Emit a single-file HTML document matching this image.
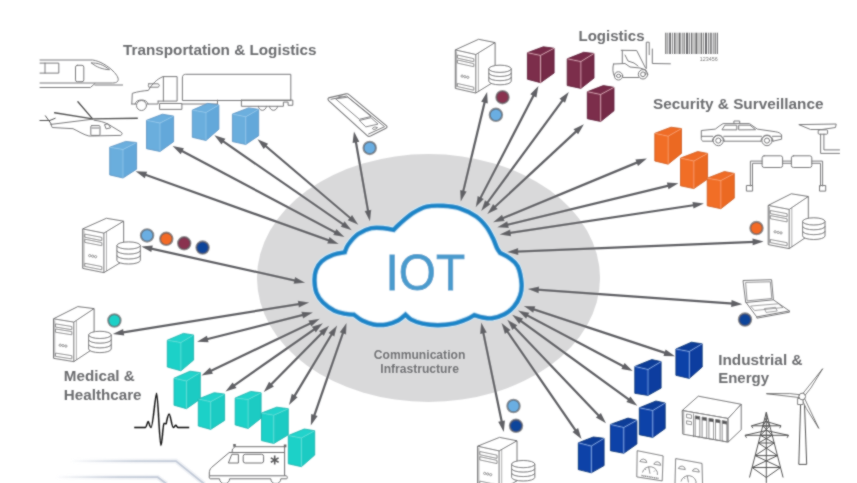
<!DOCTYPE html>
<html><head><meta charset="utf-8"><style>
html,body{margin:0;padding:0;background:#fff;width:857px;height:483px;overflow:hidden}
svg{display:block;will-change:transform}
text{font-family:"Liberation Sans",sans-serif}
</style></head><body>
<svg width="857" height="483" viewBox="0 0 857 483">
<defs><filter id="soft" x="-1%" y="-1%" width="102%" height="102%"><feConvolveMatrix order="3" kernelMatrix="1 2 1 2 12 2 1 2 1" divisor="24" edgeMode="duplicate"/></filter></defs><rect width="857" height="483" fill="#fff"/><g filter="url(#soft)">
<defs><linearGradient id="sw1" gradientUnits="userSpaceOnUse" x1="70" y1="0" x2="180" y2="0"><stop offset="0" stop-color="#c6ceda" stop-opacity="0"/><stop offset="0.6" stop-color="#c6ceda" stop-opacity="0.9"/><stop offset="1" stop-color="#c2cad8"/></linearGradient><linearGradient id="sw2" gradientUnits="userSpaceOnUse" x1="55" y1="0" x2="160" y2="0"><stop offset="0" stop-color="#c6ceda" stop-opacity="0"/><stop offset="0.6" stop-color="#c6ceda" stop-opacity="0.9"/><stop offset="1" stop-color="#c2cad8"/></linearGradient></defs>
<g fill="none" stroke-width="5" stroke-opacity="0.25"><path d="M70,461.1 L176,461.1 L204.3,484" stroke="url(#sw1)"/><path d="M55,477.2 L157.7,477.2 L166.6,484" stroke="url(#sw2)"/></g>
<g fill="none" stroke-width="1.8"><path d="M70,461.1 L176,461.1 L204.3,484" stroke="url(#sw1)"/><path d="M55,477.2 L157.7,477.2 L166.6,484" stroke="url(#sw2)"/></g>
<ellipse cx="428.5" cy="278" rx="171.5" ry="124" fill="#d9d9da"/>
<g fill="none" stroke="#7b7b7d" stroke-width="1" stroke-linejoin="round" stroke-linecap="round">
<!-- train -->
<path d="M40,60 L92.6,60 C100,61 108,66 113,71 C117,75 119.5,79 117.5,81.5 C116.5,82.6 114.5,83 112.6,83 L40,83"/>
<path d="M40,87.5 L90.4,87.5 L94.9,83.6"/>
<path d="M94.9,85 L122.6,85"/>
<path d="M40,63.1 L58.8,63.1 L58.8,73.1 L40,73.1 M45,63.1 L45,73.1"/>
<rect x="75.5" y="65.3" width="8.3" height="16.4" rx="1.8"/>
<path d="M91.5,63 C97,62.5 104,65 109.5,69.7 C103,69.5 96,67 91.5,63 Z"/>
<!-- helicopter -->
<g stroke="#555" stroke-width="1.4">
<path d="M92.6,118.9 L77.9,101.7 M92.6,118.9 L54.6,112.8 M92.6,118.9 L137.3,118.3"/>
</g>
<path d="M39.9,120.5 L49.7,120.5 M45.4,115.8 L51.5,124.4 M49.7,120.5 L55.2,118.3" stroke="#555"/>
<path d="M50.9,124.4 L92.6,119.2 M50.9,124.4 L52.2,127.5 L73,128.7 C78,131 84,135 88.9,136 L120.8,135.4 C122.5,134.5 122.5,133 121,132 L108.5,124.4 C104,122 100,121 94,120.2"/>
<rect x="90.8" y="125.6" width="9.2" height="9.8" rx="1"/>
<path d="M91.8,128 L99,128"/>
<path d="M104.9,124.5 L108,123.8 L110.6,127.8 L106.5,128.8 Z"/>
<!-- truck -->
<path d="M131.8,104 L132.3,93.3 C138,91.5 144,90.8 148.4,90.4 C152,84 157,79 163,76.6 L177.1,76.6 L177.1,101.1 L158.1,101.1"/>
<path d="M163.4,76.6 L163.4,101.1"/>
<path d="M148.8,83.8 L158,83.8 C159.8,84.5 159.8,86.5 158,87.2 L148.8,87.2 C148.2,86 148.2,85 148.8,83.8 Z"/>
<path d="M131.8,104 L135.5,104 M147.5,104 L158.1,104 L158.1,101.1"/>
<rect x="160" y="103.5" width="21.9" height="5.9"/>
<path d="M181.9,104 L217.5,104"/>
<circle cx="141.5" cy="105.5" r="5"/>
<path d="M135,104 C135.5,98.5 147.5,98.5 148,104"/>
<path d="M182.4,100.1 L182.4,78 C182.4,75.5 183.5,74.3 185.5,74.3 L290.8,74.3 L290.8,100.1 Z"/>
<path d="M217.5,100.1 L217.5,104.2"/>
<path d="M241.4,100.1 L241.4,106.3 L283.4,106.3 L283.4,102.1 L288.1,102.1 L288.1,105.3 L292.8,105.3 L292.8,100.1 L241.4,100.1"/>
<path d="M258.4,106.3 A4,4 0 0 0 266.4,106.3 M269.5,106.3 A4,4 0 0 0 277.5,106.3"/>
<!-- phone -->
<path d="M329.5,97.6 L346,93.9 Q347.8,93.5 349,94.6 L386.3,125.6 Q388,127.2 386,128.2 L370.5,136 Q368.6,136.9 367.2,135.6 L328.6,100.6 Q327,98.2 329.5,97.6 Z" stroke-width="1.1"/>
<path d="M331,99.3 L346.6,96 L384.6,126.7 L368.6,134"/>
<path d="M336,98.8 L347.8,97.2 L371,116.5 L359.7,119.2 Z" stroke-width="0.9"/>
<path d="M359.7,120.4 L371,117.7 L378,124.1 L366.2,126.8 Z" stroke-width="0.9"/>
<ellipse cx="374.8" cy="128.2" rx="2.4" ry="1.1" transform="rotate(-15 374.8 128.2)" stroke-width="0.8"/>
<path d="M338.5,96.8 L342,96.1" stroke-width="0.8"/>
<!-- forklift -->
<path d="M646.3,68.5 L646.3,42.2 L649.2,42.2 L649.2,54.7"/>
<path d="M652.3,49 L652.3,63.5 L670.4,63.8"/>
<path d="M621.2,50.3 L636.7,50.5 L645.5,68 M622.3,50.3 L622.3,63.5"/>
<path d="M613.5,64 L625,63.5 L630,67 L640,68 L646,70 L646,74 M613.5,64 C612.5,68 612.5,73 614.5,76.5 M623,77.5 L638.5,77.5"/>
<path d="M625,55 L628,61 L634,63 L638,66"/>
<circle cx="618.6" cy="75.9" r="4.1"/><ellipse cx="618.6" cy="75.9" rx="2.2" ry="1.6"/>
<circle cx="643" cy="74.3" r="4.7"/><circle cx="643" cy="74.3" r="2.4"/>
<!-- police car -->
<path d="M712.4,141.2 L702.7,141.2 C701.5,140.5 701.3,139.5 701.3,138.5 L701.3,130.5 L715.3,129.1 C718,127 720.5,125 723.1,123.6 L749.5,123.6 L757.3,129.1 L775.8,131.8 C778.5,132.3 780.5,133 781.6,135 L781.6,139.2 L773,141.2 M761,141.2 L724.2,141.2"/>
<path d="M712.4,141.2 C712.4,133 724.2,133 724.2,141.2 M761,141.2 C761,133 773,133 773,141.2"/>
<path d="M722.2,129.5 L724.8,125.2 L736.8,125.2 L736.8,129.5 Z M738.7,129.5 L738.7,125.2 L750,125.2 L755.3,129.5 Z"/>
<path d="M733.9,123.6 L733.9,121 L739.7,121 L739.7,123.6"/>
<path d="M701.5,136.3 L712.8,136.3 M723.8,136.3 L761.5,136.3 M772.5,136.3 L781.3,136.3"/>
<circle cx="718.3" cy="140.6" r="5.1"/><circle cx="718.3" cy="140.6" r="2.6"/><circle cx="767" cy="140.6" r="5.1"/><circle cx="767" cy="140.6" r="2.6"/>
<!-- street camera -->
<path d="M799.2,124.6 L836.2,124 L835.5,127.5 L822,129.5 L810.9,129.5 Z"/>
<rect x="818.2" y="129.8" width="9.4" height="4.4" rx="1"/>
<path d="M820.6,134.2 L820.6,153.4 L839.5,153.4 M823.9,134.2 L823.9,149.9 L839.5,149.9"/>
<!-- pipe/sensor -->
<path d="M750.4,186 L750.4,161.1 L762.1,161.1 M782.6,161.1 L791.4,161.1 M811.8,161.1 L822.6,161.1 L822.6,186"/>
<path d="M752.5,186 L752.5,163.3 L762.1,163.3 M782.6,163.3 L791.4,163.3 M811.8,163.3 L820.5,163.3 L820.5,186"/>
<rect x="762.1" y="155.8" width="20.5" height="11.7" rx="2"/>
<rect x="791.4" y="155.8" width="20.4" height="11.7" rx="2"/>
<rect x="746.8" y="185.5" width="5.8" height="5.6"/>
<rect x="819.9" y="185.5" width="5.8" height="5.6"/>
<!-- laptop -->
<path d="M743.4,280.5 L771.6,279.7 L773.4,299.8 L746.1,302.5 Z"/>
<path d="M746,282.4 L770.3,281.8 L771.8,298.5 L747.5,300.8 Z" stroke-width="0.8"/>
<path d="M746.1,302.5 L756.7,316.9 L789.3,310.9 L773.4,299.8 M756.7,316.9 L756.9,318.2 L789.5,312.2 L789.3,310.9"/>
<path d="M751,306 L778.4,303.8 L783,307.5 L755,310.5 Z" stroke-width="0.7"/>
<path d="M764.8,308.5 L775.5,307.3 L777.2,311 L766.5,312.4 Z" stroke-width="0.7"/>
</g>
<!-- ambulance -->
<g fill="none" stroke="#707072" stroke-width="1" stroke-linejoin="round">
<path d="M235,446.7 L284.6,446.7 L284.6,475.8"/>
<path d="M235,446.7 L232.5,449 L232,452.5 M229.2,452.5 L284.6,452.5"/>
<path d="M229.2,452.5 L211.5,467.5 C210,469 209.3,471 209.3,473 L209.3,475.8 L286.5,475.8"/>
<path d="M210.3,478.8 L219.6,478.8 M229.6,478.8 L270.8,478.8 M280.8,478.8 L286.8,478.8 M209.3,475.8 C209,477.5 209.5,478.8 210.3,478.8 M286.5,475.8 C287.5,476.5 287.5,478.5 286.8,478.8"/>
<path d="M231.8,454.3 L238.4,454.3 L238.4,463 L228.4,463 Z"/>
<rect x="243.2" y="454.3" width="20.4" height="8.7" rx="2"/>
<path d="M219.6,478.8 A5,5 0 0 0 229.6,478.8 M270.8,478.8 A5,5 0 0 0 280.8,478.8"/>
<path d="M232,452.5 L229.2,452.5"/>
</g>
<g fill="#6a6a6c"><rect x="233.2" y="444" width="2.6" height="2.8"/><rect x="283.8" y="444.5" width="2.6" height="2.8"/></g>
<path d="M274.7,455.6 L274.7,464.6 M270.8,457.9 L278.6,462.3 M270.8,462.3 L278.6,457.9" stroke="#5a5a5c" stroke-width="1.6"/>
<!-- heartbeat -->
<path d="M134.2,427.5 L145.5,427.5 C146.5,427.5 147.3,421.5 148.2,421.5 C149.1,421.5 149.5,427.5 151,427.5 C153,427.5 155.3,393.2 156.6,393.2 C158,393.2 159.5,445.4 160.9,445.4 C162.2,445.4 162.8,424.5 164,423.5 C165,423 165.5,424.5 166.2,423.5 C167,420 168,414.1 169.1,414.1 C170.5,414.1 171.8,427.5 173.3,427.5 C174.3,427.5 175,425.3 175.8,425.3 C176.6,425.3 177,427.5 178,427.5 L189.2,427.5" fill="none" stroke="#151515" stroke-width="1.5" stroke-linejoin="round"/>
<!-- barcode -->
<g fill="#6b6b6d">
<rect x="665.2" y="32.7" width="1.2" height="21.3"/><rect x="667.4" y="32.7" width="0.8" height="21.3"/><rect x="669.2" y="32.7" width="1.8" height="21.3"/><rect x="672" y="32.7" width="0.8" height="21.3"/><rect x="674" y="32.7" width="1.5" height="21.3"/><rect x="676.6" y="32.7" width="0.8" height="21.3"/><rect x="678.6" y="32.7" width="2" height="21.3"/><rect x="681.8" y="32.7" width="0.8" height="21.3"/><rect x="683.6" y="32.7" width="1.2" height="21.3"/><rect x="686" y="32.7" width="2.2" height="21.3"/><rect x="689.2" y="32.7" width="0.8" height="21.3"/><rect x="691" y="32.7" width="1.4" height="21.3"/><rect x="693.6" y="32.7" width="0.8" height="21.3"/><rect x="695.4" y="32.7" width="2" height="21.3"/><rect x="698.6" y="32.7" width="0.8" height="21.3"/><rect x="700.6" y="32.7" width="1.5" height="21.3"/><rect x="703.2" y="32.7" width="0.8" height="21.3"/><rect x="705" y="32.7" width="2" height="21.3"/><rect x="708.2" y="32.7" width="1" height="21.3"/><rect x="710.2" y="32.7" width="1.5" height="21.3"/><rect x="712.8" y="32.7" width="0.8" height="21.3"/><rect x="714.6" y="32.7" width="1.2" height="21.3"/><rect x="716.8" y="32.7" width="1.1" height="21.3"/>
</g>
<text x="699.8" y="61" font-family="Liberation Sans" font-size="5.4" fill="#777" textLength="18" lengthAdjust="spacingAndGlyphs">123456</text>
<!-- industrial rack -->
<g fill="none" stroke="#6e6e70" stroke-width="1" stroke-linejoin="round">
<polygon points="682.2,410.5 698.3,396.2 741.2,404.3 728.1,418.5" fill="#fff"/>
<polygon points="682.2,410.5 728.1,418.5 728.1,442.1 682.8,434.1" fill="#fff"/>
<polygon points="728.1,418.5 741.2,404.3 741.2,429.7 728.1,442.1" fill="#fff"/>
<polyline points="683.7,411.3 684.0,433.6" stroke-width="0.7"/>
<polygon points="686.5,414.0 691.5,414.9 691.5,418.5 686.5,417.6" stroke-width="0.8"/>
<polygon points="686.5,420.8 691.5,421.7 691.5,424.8 686.5,423.9" stroke-width="0.8"/>
<polyline points="693.5,413.5 693.5,437.0" stroke-width="0.8"/>
<polygon points="695.2,415.8 699.8,416.6 699.8,437.1 695.2,436.3" stroke-width="0.8"/>
<polygon points="702.1,417.0 706.7,417.8 706.7,438.3 702.1,437.5" stroke-width="0.8"/>
<polygon points="708.9,418.2 713.5,419.0 713.5,439.5 708.9,438.7" stroke-width="0.8"/>
<polygon points="715.5,419.3 720.1,420.1 720.1,440.6 715.5,439.8" stroke-width="0.8"/>
<polygon points="722.2,420.5 726.8,421.3 726.8,441.8 722.2,441.0" stroke-width="0.8"/>
</g>
<g fill="#5a5a5c"><polygon points="695.2,415.8 699.8,416.6 699.8,419.8 695.2,419.0"/><polygon points="702.1,417.0 706.7,417.8 706.7,421.0 702.1,420.2"/><polygon points="708.9,418.2 713.5,419.0 713.5,422.2 708.9,421.4"/><polygon points="715.5,419.3 720.1,420.1 720.1,423.3 715.5,422.5"/><polygon points="722.2,420.5 726.8,421.3 726.8,424.5 722.2,423.7"/></g>
<!-- pylon -->
<g fill="none" stroke="#555" stroke-width="1" stroke-linejoin="round">
<path d="M749.5,477.5 L766.3,412.3 L783.1,477.5 M766.3,412.3 L766.3,483 M751.5,425.8 L781,425.8 M751.5,425.8 L766.3,421.5 L781,425.8 M751.5,425.8 L752.8,428.2 M781,425.8 L779.7,428.2 M745.1,435.3 L788.5,435.3 M745.1,435.3 L766.3,430.5 L788.5,435.3 M745.1,435.3 L746.5,437.8 M788.5,435.3 L787.1,437.8 M764.8,418 L769.8,426 M767.8,418 L762.8,426 M762.8,426 L769.8,426 M762.8,426 L772.2,435.3 M769.8,426 L760.4,435.3 M760.4,435.3 L772.2,435.3 M760.4,435.3 L774.2,443 M772.2,435.3 L758.4,443 M758.4,443 L774.2,443 M758.4,443 L777.5,455.6 M774.2,443 L755.1,455.6 M755.1,455.6 L777.5,455.6 M755.1,455.6 L780.5,467.5 M777.5,455.6 L752.1,467.5 M752.1,467.5 L780.5,467.5 M752.1,467.5 L766.3,477.5 L780.5,467.5"/>
<!-- wind turbine -->
<path d="M800.6,404.5 L798.8,464.4 L806.7,464.4 L804.5,404.5"/>
<path d="M805.3,395.0 L810.9,387.9 L822.7,368.7 L803.0,393.4 Z M799.3,394.7 L789.8,393.6 L766.4,393.7 L799.1,397.5 Z M802.2,399.9 L806.3,408.5 L818.8,428.4 L804.6,398.6 Z" fill="#fff" stroke="#666" stroke-width="0.9"/>
<rect x="797.6" y="398.5" width="5.5" height="6" fill="#fff" stroke="#666" stroke-width="0.9"/>
<circle cx="802.2" cy="396.5" r="3.3" fill="#fff" stroke="#666" stroke-width="1"/>
</g>
<!-- gauges -->
<g fill="#fff" stroke="#6a6a6c" stroke-width="0.9">
<path d="M637.2,450.7 L663.1,455.9 L662.2,480.9 L636.8,476.9 Z"/>
<path d="M675,484 L675.7,458.6 L702,463.4 L702.5,484"/>
</g>
<g fill="none" stroke="#6a6a6c" stroke-width="0.8">
<path d="M639.8,461.5 A3.6,3.6 0 0 1 646.8,462.6 Z M653.8,464.2 A3.6,3.6 0 0 1 660.8,465.3 Z"/>
<path d="M642.5,472.5 A7.5,7 0 0 1 657.4,475"/>
<path d="M650,473.7 L648.6,466.8 M645,468.8 L646,470 M655,470.5 L654,471.6"/>
<path d="M641.5,475.5 L658.5,478.4" stroke-width="1.3" stroke-dasharray="1.2,0.6"/>
<path d="M678.3,468.5 A3.6,3.6 0 0 1 685.3,469.6 Z M692.3,471 A3.6,3.6 0 0 1 699.3,472.1 Z"/>
<path d="M681,481.5 A7.5,7 0 0 1 696,484"/>
<path d="M688.5,482.5 L687.2,475.8 M684,477.5 L685,478.8"/>
</g>

<polygon points="455.3,49.9 478.6,39.3 495.1,42.6 495.1,81.1 475.8,93.0 455.3,88.4" fill="#fff" stroke="#6e6e70" stroke-width="1"/><polyline points="455.3,49.9 475.8,54.5 495.1,42.6" fill="none" stroke="#6e6e70" stroke-width="1"/><line x1="475.8" y1="54.5" x2="475.8" y2="93.0" stroke="#6e6e70" stroke-width="1"/><polygon points="457.4,55.0 473.8,58.7 473.8,61.7 457.4,58.1" fill="none" stroke="#6e6e70" stroke-width="0.8"/><polygon points="457.4,60.0 473.8,63.7 473.8,66.7 457.4,63.1" fill="none" stroke="#6e6e70" stroke-width="0.8"/><polygon points="457.4,83.5 473.8,87.2 473.8,90.2 457.4,86.5" fill="none" stroke="#6e6e70" stroke-width="0.8"/><circle cx="462.1" cy="76.1" r="1.15" fill="none" stroke="#6e6e70" stroke-width="0.7"/><circle cx="464.9" cy="76.7" r="1.15" fill="none" stroke="#6e6e70" stroke-width="0.7"/><circle cx="467.8" cy="77.3" r="1.15" fill="none" stroke="#6e6e70" stroke-width="0.7"/><polyline points="478.4,53.1 478.4,91.4" stroke="#6e6e70" stroke-width="0.6" fill="none"/><polyline points="456.6,51.4 456.6,87.4" stroke="#6e6e70" stroke-width="0.6" fill="none"/>
<polygon points="82.7,228.9 106.4,218.3 123.6,221.2 123.6,260.7 103.9,272.6 82.7,268.4" fill="#fff" stroke="#6e6e70" stroke-width="1"/><polyline points="82.7,228.9 103.9,233.1 123.6,221.2" fill="none" stroke="#6e6e70" stroke-width="1"/><line x1="103.9" y1="233.1" x2="103.9" y2="272.6" stroke="#6e6e70" stroke-width="1"/><polygon points="84.8,234.1 101.8,237.4 101.8,240.6 84.8,237.2" fill="none" stroke="#6e6e70" stroke-width="0.8"/><polygon points="84.8,239.2 101.8,242.6 101.8,245.7 84.8,242.4" fill="none" stroke="#6e6e70" stroke-width="0.8"/><polygon points="84.8,263.3 101.8,266.6 101.8,269.8 84.8,266.4" fill="none" stroke="#6e6e70" stroke-width="0.8"/><circle cx="89.7" cy="255.6" r="1.15" fill="none" stroke="#6e6e70" stroke-width="0.7"/><circle cx="92.7" cy="256.2" r="1.15" fill="none" stroke="#6e6e70" stroke-width="0.7"/><circle cx="95.6" cy="256.7" r="1.15" fill="none" stroke="#6e6e70" stroke-width="0.7"/><polyline points="106.5,231.7 106.5,271.0" stroke="#6e6e70" stroke-width="0.6" fill="none"/><polyline points="84.0,230.4 84.0,267.4" stroke="#6e6e70" stroke-width="0.6" fill="none"/>
<polygon points="53.5,318.8 77.8,306.6 94.1,308.6 94.1,348.1 73.8,361.6 53.5,358.3" fill="#fff" stroke="#6e6e70" stroke-width="1"/><polyline points="53.5,318.8 73.8,322.1 94.1,308.6" fill="none" stroke="#6e6e70" stroke-width="1"/><line x1="73.8" y1="322.1" x2="73.8" y2="361.6" stroke="#6e6e70" stroke-width="1"/><polygon points="55.5,323.9 71.8,326.5 71.8,329.7 55.5,327.0" fill="none" stroke="#6e6e70" stroke-width="0.8"/><polygon points="55.5,329.0 71.8,331.6 71.8,334.8 55.5,332.2" fill="none" stroke="#6e6e70" stroke-width="0.8"/><polygon points="55.5,353.1 71.8,355.7 71.8,358.9 55.5,356.3" fill="none" stroke="#6e6e70" stroke-width="0.8"/><circle cx="60.2" cy="345.2" r="1.15" fill="none" stroke="#6e6e70" stroke-width="0.7"/><circle cx="63.0" cy="345.6" r="1.15" fill="none" stroke="#6e6e70" stroke-width="0.7"/><circle cx="65.9" cy="346.1" r="1.15" fill="none" stroke="#6e6e70" stroke-width="0.7"/><polyline points="76.4,320.7 76.4,360.0" stroke="#6e6e70" stroke-width="0.6" fill="none"/><polyline points="54.8,320.3 54.8,357.3" stroke="#6e6e70" stroke-width="0.6" fill="none"/>
<polygon points="768.2,205.4 791.3,193.8 808.3,196.5 808.3,235.7 789.2,248.6 768.2,244.6" fill="#fff" stroke="#6e6e70" stroke-width="1"/><polyline points="768.2,205.4 789.2,209.4 808.3,196.5" fill="none" stroke="#6e6e70" stroke-width="1"/><line x1="789.2" y1="209.4" x2="789.2" y2="248.6" stroke="#6e6e70" stroke-width="1"/><polygon points="770.3,210.5 787.1,213.7 787.1,216.8 770.3,213.6" fill="none" stroke="#6e6e70" stroke-width="0.8"/><polygon points="770.3,215.6 787.1,218.8 787.1,221.9 770.3,218.7" fill="none" stroke="#6e6e70" stroke-width="0.8"/><polygon points="770.3,239.5 787.1,242.7 787.1,245.8 770.3,242.6" fill="none" stroke="#6e6e70" stroke-width="0.8"/><circle cx="775.1" cy="231.8" r="1.15" fill="none" stroke="#6e6e70" stroke-width="0.7"/><circle cx="778.1" cy="232.4" r="1.15" fill="none" stroke="#6e6e70" stroke-width="0.7"/><circle cx="781.0" cy="232.9" r="1.15" fill="none" stroke="#6e6e70" stroke-width="0.7"/><polyline points="791.8,208.0 791.8,247.0" stroke="#6e6e70" stroke-width="0.6" fill="none"/><polyline points="769.5,206.9 769.5,243.6" stroke="#6e6e70" stroke-width="0.6" fill="none"/>
<polygon points="477.6,446.2 499.5,437.4 517.0,440.8 517.0,480.8 499.1,490.9 477.6,486.2" fill="#fff" stroke="#6e6e70" stroke-width="1"/><polyline points="477.6,446.2 499.1,450.9 517.0,440.8" fill="none" stroke="#6e6e70" stroke-width="1"/><line x1="499.1" y1="450.9" x2="499.1" y2="490.9" stroke="#6e6e70" stroke-width="1"/><polygon points="479.8,451.5 497.0,455.2 497.0,458.4 479.8,454.7" fill="none" stroke="#6e6e70" stroke-width="0.8"/><polygon points="479.8,456.7 497.0,460.4 497.0,463.6 479.8,459.9" fill="none" stroke="#6e6e70" stroke-width="0.8"/><polygon points="479.8,481.1 497.0,484.8 497.0,488.0 479.8,484.3" fill="none" stroke="#6e6e70" stroke-width="0.8"/><circle cx="484.7" cy="473.4" r="1.15" fill="none" stroke="#6e6e70" stroke-width="0.7"/><circle cx="487.7" cy="474.0" r="1.15" fill="none" stroke="#6e6e70" stroke-width="0.7"/><circle cx="490.7" cy="474.7" r="1.15" fill="none" stroke="#6e6e70" stroke-width="0.7"/><polyline points="501.7,449.5 501.7,489.3" stroke="#6e6e70" stroke-width="0.6" fill="none"/><polyline points="478.9,447.7 478.9,485.2" stroke="#6e6e70" stroke-width="0.6" fill="none"/>
<path d="M488.8,68.8 L488.8,81.2 A11.2,3.6 0 0 0 511.2,81.2 L511.2,68.8 Z" fill="#fff" stroke="#6e6e70" stroke-width="1"/><ellipse cx="500.0" cy="68.8" rx="11.2" ry="3.6" fill="#fff" stroke="#6e6e70" stroke-width="1"/><path d="M488.8,72.9 A11.2,3.6 0 0 0 511.2,72.9" fill="none" stroke="#6e6e70" stroke-width="1"/><path d="M488.8,77.1 A11.2,3.6 0 0 0 511.2,77.1" fill="none" stroke="#6e6e70" stroke-width="1"/>
<path d="M116.9,245.5 L116.9,260.4 A11.7,3.6 0 0 0 140.3,260.4 L140.3,245.5 Z" fill="#fff" stroke="#6e6e70" stroke-width="1"/><ellipse cx="128.6" cy="245.5" rx="11.7" ry="3.6" fill="#fff" stroke="#6e6e70" stroke-width="1"/><path d="M116.9,250.5 A11.7,3.6 0 0 0 140.3,250.5" fill="none" stroke="#6e6e70" stroke-width="1"/><path d="M116.9,255.4 A11.7,3.6 0 0 0 140.3,255.4" fill="none" stroke="#6e6e70" stroke-width="1"/>
<path d="M88.6,334.9 L88.6,349.0 A11.3,3.6 0 0 0 111.2,349.0 L111.2,334.9 Z" fill="#fff" stroke="#6e6e70" stroke-width="1"/><ellipse cx="99.9" cy="334.9" rx="11.3" ry="3.6" fill="#fff" stroke="#6e6e70" stroke-width="1"/><path d="M88.6,339.6 A11.3,3.6 0 0 0 111.2,339.6" fill="none" stroke="#6e6e70" stroke-width="1"/><path d="M88.6,344.3 A11.3,3.6 0 0 0 111.2,344.3" fill="none" stroke="#6e6e70" stroke-width="1"/>
<path d="M802.6,221.4 L802.6,235.9 A11.2,3.6 0 0 0 825.0,235.9 L825.0,221.4 Z" fill="#fff" stroke="#6e6e70" stroke-width="1"/><ellipse cx="813.8" cy="221.4" rx="11.2" ry="3.6" fill="#fff" stroke="#6e6e70" stroke-width="1"/><path d="M802.6,226.2 A11.2,3.6 0 0 0 825.0,226.2" fill="none" stroke="#6e6e70" stroke-width="1"/><path d="M802.6,231.1 A11.2,3.6 0 0 0 825.0,231.1" fill="none" stroke="#6e6e70" stroke-width="1"/>
<path d="M511.6,464.1 L511.6,477.4 A11.6,3.6 0 0 0 534.8,477.4 L534.8,464.1 Z" fill="#fff" stroke="#6e6e70" stroke-width="1"/><ellipse cx="523.2" cy="464.1" rx="11.6" ry="3.6" fill="#fff" stroke="#6e6e70" stroke-width="1"/><path d="M511.6,468.5 A11.6,3.6 0 0 0 534.8,468.5" fill="none" stroke="#6e6e70" stroke-width="1"/><path d="M511.6,473.0 A11.6,3.6 0 0 0 534.8,473.0" fill="none" stroke="#6e6e70" stroke-width="1"/>
<g stroke="#606165" stroke-width="2.25" fill="#606165" stroke-linecap="butt">
<line x1="144.1" y1="174.3" x2="330.2" y2="240.9"/><polygon stroke="none" points="135.6,171.3 144.8,178.2 147.1,171.8"/><polygon stroke="none" points="338.7,243.9 327.2,243.4 329.5,237.0"/>
<line x1="180.6" y1="150.3" x2="336.5" y2="232.9"/><polygon stroke="none" points="172.6,146.1 180.7,154.3 183.9,148.2"/><polygon stroke="none" points="344.5,237.1 333.2,235.0 336.4,228.9"/>
<line x1="221.8" y1="140.4" x2="344.3" y2="225.2"/><polygon stroke="none" points="214.4,135.3 221.5,144.4 225.4,138.8"/><polygon stroke="none" points="351.7,230.3 340.7,226.8 344.6,221.2"/>
<line x1="264.4" y1="145.0" x2="351.4" y2="219.0"/><polygon stroke="none" points="257.5,139.2 263.7,148.9 268.1,143.7"/><polygon stroke="none" points="358.3,224.8 347.7,220.3 352.1,215.1"/>
<line x1="355.6" y1="140.4" x2="368.3" y2="212.3"/><polygon stroke="none" points="354.0,131.5 352.6,142.9 359.3,141.7"/><polygon stroke="none" points="369.9,221.2 364.6,211.0 371.3,209.8"/>
<line x1="150.1" y1="248.4" x2="296.3" y2="280.8"/><polygon stroke="none" points="141.3,246.4 151.3,252.1 152.8,245.5"/><polygon stroke="none" points="305.1,282.8 293.6,283.7 295.1,277.1"/>
<line x1="121.7" y1="332.6" x2="300.3" y2="303.8"/><polygon stroke="none" points="112.8,334.0 124.2,335.6 123.1,328.9"/><polygon stroke="none" points="309.2,302.4 298.9,307.5 297.8,300.8"/>
<line x1="205.8" y1="339.5" x2="304.2" y2="314.6"/><polygon stroke="none" points="197.1,341.7 208.6,342.3 206.9,335.7"/><polygon stroke="none" points="312.9,312.4 303.1,318.4 301.4,311.8"/>
<line x1="209.6" y1="371.5" x2="311.7" y2="322.7"/><polygon stroke="none" points="201.5,375.4 212.9,373.7 210.0,367.6"/><polygon stroke="none" points="319.8,318.8 311.3,326.6 308.4,320.5"/>
<line x1="232.9" y1="386.3" x2="315.5" y2="328.5"/><polygon stroke="none" points="225.5,391.5 236.5,388.0 232.6,382.4"/><polygon stroke="none" points="322.9,323.3 315.8,332.4 311.9,326.8"/>
<line x1="270.1" y1="385.5" x2="322.8" y2="332.1"/><polygon stroke="none" points="263.8,391.9 273.9,386.5 269.1,381.7"/><polygon stroke="none" points="329.1,325.7 323.8,335.9 319.0,331.1"/>
<line x1="293.7" y1="397.3" x2="332.4" y2="333.1"/><polygon stroke="none" points="289.0,405.0 297.6,397.3 291.8,393.8"/><polygon stroke="none" points="337.1,325.4 334.3,336.6 328.5,333.1"/>
<line x1="313.8" y1="416.9" x2="343.5" y2="331.4"/><polygon stroke="none" points="310.8,425.4 317.6,416.1 311.2,413.9"/><polygon stroke="none" points="346.5,322.9 346.1,334.4 339.7,332.2"/>
<line x1="483.0" y1="331.3" x2="502.0" y2="423.1"/><polygon stroke="none" points="481.2,322.5 480.1,334.0 486.8,332.6"/><polygon stroke="none" points="503.8,431.9 498.2,421.8 504.9,420.4"/>
<line x1="532.3" y1="308.9" x2="666.5" y2="353.4"/><polygon stroke="none" points="523.8,306.1 533.2,312.8 535.3,306.3"/><polygon stroke="none" points="675.0,356.2 663.5,356.0 665.6,349.5"/>
<line x1="526.0" y1="314.8" x2="624.7" y2="366.9"/><polygon stroke="none" points="518.0,310.6 526.1,318.7 529.3,312.7"/><polygon stroke="none" points="632.7,371.1 621.4,369.0 624.6,363.0"/>
<line x1="519.5" y1="320.0" x2="630.0" y2="400.4"/><polygon stroke="none" points="512.2,314.7 519.1,323.9 523.1,318.4"/><polygon stroke="none" points="637.3,405.7 626.4,402.0 630.4,396.5"/>
<line x1="513.5" y1="326.2" x2="599.8" y2="416.7"/><polygon stroke="none" points="507.3,319.7 512.4,330.0 517.4,325.3"/><polygon stroke="none" points="606.0,423.2 595.9,417.6 600.9,412.9"/>
<line x1="506.6" y1="330.4" x2="576.4" y2="431.6"/><polygon stroke="none" points="501.5,323.0 504.9,334.0 510.5,330.1"/><polygon stroke="none" points="581.5,439.0 572.5,431.9 578.1,428.0"/>
<line x1="536.9" y1="289.6" x2="733.3" y2="303.7"/><polygon stroke="none" points="527.9,289.0 538.6,293.2 539.1,286.4"/><polygon stroke="none" points="742.3,304.3 731.1,306.9 731.6,300.1"/>
<line x1="516.2" y1="251.6" x2="754.6" y2="241.8"/><polygon stroke="none" points="507.2,252.0 518.3,254.9 518.1,248.1"/><polygon stroke="none" points="763.6,241.4 752.7,245.3 752.5,238.5"/>
<line x1="501.4" y1="218.8" x2="638.6" y2="161.9"/><polygon stroke="none" points="493.1,222.2 504.6,221.1 502.0,214.8"/><polygon stroke="none" points="646.9,158.5 638.0,165.9 635.4,159.6"/>
<line x1="506.0" y1="225.1" x2="669.7" y2="185.4"/><polygon stroke="none" points="497.3,227.2 508.8,227.9 507.2,221.3"/><polygon stroke="none" points="678.4,183.3 668.5,189.2 666.9,182.6"/>
<line x1="508.6" y1="233.2" x2="695.0" y2="205.0"/><polygon stroke="none" points="499.7,234.6 511.1,236.3 510.1,229.6"/><polygon stroke="none" points="703.9,203.6 693.5,208.6 692.5,201.9"/>
<line x1="479.8" y1="199.3" x2="534.3" y2="94.1"/><polygon stroke="none" points="475.7,207.3 483.8,199.1 477.7,196.0"/><polygon stroke="none" points="538.4,86.1 536.4,97.4 530.3,94.3"/>
<line x1="486.5" y1="203.8" x2="563.5" y2="99.2"/><polygon stroke="none" points="481.2,211.1 490.5,204.2 485.0,200.2"/><polygon stroke="none" points="568.8,91.9 565.0,102.8 559.5,98.8"/>
<line x1="493.9" y1="207.8" x2="577.3" y2="130.4"/><polygon stroke="none" points="487.3,213.9 497.7,208.9 493.1,203.9"/><polygon stroke="none" points="583.9,124.3 578.1,134.3 573.5,129.3"/>
<line x1="462.9" y1="192.7" x2="485.0" y2="100.7"/><polygon stroke="none" points="460.8,201.5 466.7,191.6 460.1,190.0"/><polygon stroke="none" points="487.1,91.9 487.8,103.4 481.2,101.8"/>
</g>
<polygon points="109.7,147.2 123.0,149.5 123.0,178.0 109.7,174.9" fill="#6aaedd"/><polygon points="123.0,149.5 136.6,142.5 136.6,169.2 123.0,178.0" fill="#64a8da"/><polygon points="109.7,147.2 125.7,141.4 136.6,142.5 123.0,149.5" fill="#6cafde"/><polygon points="109.7,147.2 125.7,141.4 136.6,142.5 136.6,169.2 123.0,178.0 109.7,174.9" fill="none" stroke="#5a90c0" stroke-width="0.8" stroke-linejoin="round"/><polyline points="109.7,147.2 123.0,149.5 136.6,142.5" fill="none" stroke="#8ec4ea" stroke-width="0.8"/><line x1="123.0" y1="149.5" x2="123.0" y2="178.0" stroke="#8ec4ea" stroke-width="0.8"/>
<polygon points="146.5,120.3 160.0,123.1 160.0,151.5 146.5,148.7" fill="#6aaedd"/><polygon points="160.0,123.1 173.6,116.1 173.6,141.7 160.0,151.5" fill="#64a8da"/><polygon points="146.5,120.3 162.4,114.2 173.6,116.1 160.0,123.1" fill="#6cafde"/><polygon points="146.5,120.3 162.4,114.2 173.6,116.1 173.6,141.7 160.0,151.5 146.5,148.7" fill="none" stroke="#5a90c0" stroke-width="0.8" stroke-linejoin="round"/><polyline points="146.5,120.3 160.0,123.1 173.6,116.1" fill="none" stroke="#8ec4ea" stroke-width="0.8"/><line x1="160.0" y1="123.1" x2="160.0" y2="151.5" stroke="#8ec4ea" stroke-width="0.8"/>
<polygon points="192.3,110.1 206.0,112.5 206.0,140.5 192.3,137.3" fill="#6aaedd"/><polygon points="206.0,112.5 218.9,105.0 218.9,129.2 206.0,140.5" fill="#64a8da"/><polygon points="192.3,110.1 207.6,103.4 218.9,105.0 206.0,112.5" fill="#6cafde"/><polygon points="192.3,110.1 207.6,103.4 218.9,105.0 218.9,129.2 206.0,140.5 192.3,137.3" fill="none" stroke="#5a90c0" stroke-width="0.8" stroke-linejoin="round"/><polyline points="192.3,110.1 206.0,112.5 218.9,105.0" fill="none" stroke="#8ec4ea" stroke-width="0.8"/><line x1="206.0" y1="112.5" x2="206.0" y2="140.5" stroke="#8ec4ea" stroke-width="0.8"/>
<polygon points="232.4,114.1 245.8,116.8 245.8,144.5 232.4,141.6" fill="#6aaedd"/><polygon points="245.8,116.8 258.7,109.3 258.7,135.7 245.8,144.5" fill="#64a8da"/><polygon points="232.4,114.1 248.5,107.9 258.7,109.3 245.8,116.8" fill="#6cafde"/><polygon points="232.4,114.1 248.5,107.9 258.7,109.3 258.7,135.7 245.8,144.5 232.4,141.6" fill="none" stroke="#5a90c0" stroke-width="0.8" stroke-linejoin="round"/><polyline points="232.4,114.1 245.8,116.8 258.7,109.3" fill="none" stroke="#8ec4ea" stroke-width="0.8"/><line x1="245.8" y1="116.8" x2="245.8" y2="144.5" stroke="#8ec4ea" stroke-width="0.8"/>
<polygon points="527.4,52.7 540.5,55.4 540.5,82.7 527.4,79.2" fill="#7b2e4b"/><polygon points="540.5,55.4 554.1,48.2 554.1,73.0 540.5,82.7" fill="#752a46"/><polygon points="527.4,52.7 543.3,46.8 554.1,48.2 540.5,55.4" fill="#772b48"/><polygon points="527.4,52.7 543.3,46.8 554.1,48.2 554.1,73.0 540.5,82.7 527.4,79.2" fill="none" stroke="#5a1a35" stroke-width="0.8" stroke-linejoin="round"/><polyline points="527.4,52.7 540.5,55.4 554.1,48.2" fill="none" stroke="#d89eb0" stroke-width="0.8"/><line x1="540.5" y1="55.4" x2="540.5" y2="82.7" stroke="#d89eb0" stroke-width="0.8"/>
<polygon points="567.2,58.8 580.9,61.6 580.9,88.4 567.2,85.5" fill="#7b2e4b"/><polygon points="580.9,61.6 594.0,53.4 594.0,78.1 580.9,88.4" fill="#752a46"/><polygon points="567.2,58.8 583.7,52.3 594.0,53.4 580.9,61.6" fill="#772b48"/><polygon points="567.2,58.8 583.7,52.3 594.0,53.4 594.0,78.1 580.9,88.4 567.2,85.5" fill="none" stroke="#5a1a35" stroke-width="0.8" stroke-linejoin="round"/><polyline points="567.2,58.8 580.9,61.6 594.0,53.4" fill="none" stroke="#d89eb0" stroke-width="0.8"/><line x1="580.9" y1="61.6" x2="580.9" y2="88.4" stroke="#d89eb0" stroke-width="0.8"/>
<polygon points="587.3,91.7 600.7,94.5 600.7,121.5 587.3,118.7" fill="#7b2e4b"/><polygon points="600.7,94.5 614.0,87.3 614.0,110.8 600.7,121.5" fill="#752a46"/><polygon points="587.3,91.7 603.3,85.6 614.0,87.3 600.7,94.5" fill="#772b48"/><polygon points="587.3,91.7 603.3,85.6 614.0,87.3 614.0,110.8 600.7,121.5 587.3,118.7" fill="none" stroke="#5a1a35" stroke-width="0.8" stroke-linejoin="round"/><polyline points="587.3,91.7 600.7,94.5 614.0,87.3" fill="none" stroke="#d89eb0" stroke-width="0.8"/><line x1="600.7" y1="94.5" x2="600.7" y2="121.5" stroke="#d89eb0" stroke-width="0.8"/>
<polygon points="654.8,133.3 668.1,136.2 668.1,164.2 654.8,161.0" fill="#f16e27"/><polygon points="668.1,136.2 681.5,128.6 681.5,153.4 668.1,164.2" fill="#eb6924"/><polygon points="654.8,133.3 671.0,127.2 681.5,128.6 668.1,136.2" fill="#ef6c26"/><polygon points="654.8,133.3 671.0,127.2 681.5,128.6 681.5,153.4 668.1,164.2 654.8,161.0" fill="none" stroke="#cc5a1e" stroke-width="0.8" stroke-linejoin="round"/><polyline points="654.8,133.3 668.1,136.2 681.5,128.6" fill="none" stroke="#f79a66" stroke-width="0.8"/><line x1="668.1" y1="136.2" x2="668.1" y2="164.2" stroke="#f79a66" stroke-width="0.8"/>
<polygon points="680.5,158.1 693.9,161.0 693.9,188.6 680.5,185.8" fill="#f16e27"/><polygon points="693.9,161.0 707.6,153.4 707.6,179.1 693.9,188.6" fill="#eb6924"/><polygon points="680.5,158.1 697.7,151.5 707.6,153.4 693.9,161.0" fill="#ef6c26"/><polygon points="680.5,158.1 697.7,151.5 707.6,153.4 707.6,179.1 693.9,188.6 680.5,185.8" fill="none" stroke="#cc5a1e" stroke-width="0.8" stroke-linejoin="round"/><polyline points="680.5,158.1 693.9,161.0 707.6,153.4" fill="none" stroke="#f79a66" stroke-width="0.8"/><line x1="693.9" y1="161.0" x2="693.9" y2="188.6" stroke="#f79a66" stroke-width="0.8"/>
<polygon points="707.2,178.2 720.9,180.6 720.9,208.7 707.2,205.8" fill="#f16e27"/><polygon points="720.9,180.6 734.3,173.4 734.3,198.2 720.9,208.7" fill="#eb6924"/><polygon points="707.2,178.2 724.4,171.5 734.3,173.4 720.9,180.6" fill="#ef6c26"/><polygon points="707.2,178.2 724.4,171.5 734.3,173.4 734.3,198.2 720.9,208.7 707.2,205.8" fill="none" stroke="#cc5a1e" stroke-width="0.8" stroke-linejoin="round"/><polyline points="707.2,178.2 720.9,180.6 734.3,173.4" fill="none" stroke="#f79a66" stroke-width="0.8"/><line x1="720.9" y1="180.6" x2="720.9" y2="208.7" stroke="#f79a66" stroke-width="0.8"/>
<polygon points="167.3,340.2 180.9,342.6 180.9,370.8 167.3,367.0" fill="#1fd1c8"/><polygon points="180.9,342.6 193.6,335.0 193.6,360.1 180.9,370.8" fill="#1ccbc3"/><polygon points="167.3,340.2 183.4,333.4 193.6,335.0 180.9,342.6" fill="#22d3cb"/><polygon points="167.3,340.2 183.4,333.4 193.6,335.0 193.6,360.1 180.9,370.8 167.3,367.0" fill="none" stroke="#18b0a9" stroke-width="0.8" stroke-linejoin="round"/><polyline points="167.3,340.2 180.9,342.6 193.6,335.0" fill="none" stroke="#58dcd6" stroke-width="0.8"/><line x1="180.9" y1="342.6" x2="180.9" y2="370.8" stroke="#58dcd6" stroke-width="0.8"/>
<polygon points="174.0,378.2 186.5,381.0 186.5,408.7 174.0,405.2" fill="#1fd1c8"/><polygon points="186.5,381.0 200.3,372.6 200.3,399.0 186.5,408.7" fill="#1ccbc3"/><polygon points="174.0,378.2 190.0,371.2 200.3,372.6 186.5,381.0" fill="#22d3cb"/><polygon points="174.0,378.2 190.0,371.2 200.3,372.6 200.3,399.0 186.5,408.7 174.0,405.2" fill="none" stroke="#18b0a9" stroke-width="0.8" stroke-linejoin="round"/><polyline points="174.0,378.2 186.5,381.0 200.3,372.6" fill="none" stroke="#58dcd6" stroke-width="0.8"/><line x1="186.5" y1="381.0" x2="186.5" y2="408.7" stroke="#58dcd6" stroke-width="0.8"/>
<polygon points="198.3,399.0 210.7,401.7 210.7,429.4 198.3,426.0" fill="#1fd1c8"/><polygon points="210.7,401.7 224.6,394.1 224.6,420.4 210.7,429.4" fill="#1ccbc3"/><polygon points="198.3,399.0 214.2,392.7 224.6,394.1 210.7,401.7" fill="#22d3cb"/><polygon points="198.3,399.0 214.2,392.7 224.6,394.1 224.6,420.4 210.7,429.4 198.3,426.0" fill="none" stroke="#18b0a9" stroke-width="0.8" stroke-linejoin="round"/><polyline points="198.3,399.0 210.7,401.7 224.6,394.1" fill="none" stroke="#58dcd6" stroke-width="0.8"/><line x1="210.7" y1="401.7" x2="210.7" y2="429.4" stroke="#58dcd6" stroke-width="0.8"/>
<polygon points="235.2,398.0 248.1,399.5 248.1,428.5 235.2,424.9" fill="#1fd1c8"/><polygon points="248.1,399.5 261.1,392.8 261.1,418.2 248.1,428.5" fill="#1ccbc3"/><polygon points="235.2,398.0 250.7,391.4 261.1,392.8 248.1,399.5" fill="#22d3cb"/><polygon points="235.2,398.0 250.7,391.4 261.1,392.8 261.1,418.2 248.1,428.5 235.2,424.9" fill="none" stroke="#18b0a9" stroke-width="0.8" stroke-linejoin="round"/><polyline points="235.2,398.0 248.1,399.5 261.1,392.8" fill="none" stroke="#58dcd6" stroke-width="0.8"/><line x1="248.1" y1="399.5" x2="248.1" y2="428.5" stroke="#58dcd6" stroke-width="0.8"/>
<polygon points="261.5,413.0 273.8,415.2 273.8,443.5 261.5,440.6" fill="#1fd1c8"/><polygon points="273.8,415.2 288.3,408.7 288.3,434.8 273.8,443.5" fill="#1ccbc3"/><polygon points="261.5,413.0 276.7,407.2 288.3,408.7 273.8,415.2" fill="#22d3cb"/><polygon points="261.5,413.0 276.7,407.2 288.3,408.7 288.3,434.8 273.8,443.5 261.5,440.6" fill="none" stroke="#18b0a9" stroke-width="0.8" stroke-linejoin="round"/><polyline points="261.5,413.0 273.8,415.2 288.3,408.7" fill="none" stroke="#58dcd6" stroke-width="0.8"/><line x1="273.8" y1="415.2" x2="273.8" y2="443.5" stroke="#58dcd6" stroke-width="0.8"/>
<polygon points="288.3,435.5 301.4,438.0 301.4,466.7 288.3,463.8" fill="#1fd1c8"/><polygon points="301.4,438.0 314.7,430.7 314.7,455.1 301.4,466.7" fill="#1ccbc3"/><polygon points="288.3,435.5 304.3,429.0 314.7,430.7 301.4,438.0" fill="#22d3cb"/><polygon points="288.3,435.5 304.3,429.0 314.7,430.7 314.7,455.1 301.4,466.7 288.3,463.8" fill="none" stroke="#18b0a9" stroke-width="0.8" stroke-linejoin="round"/><polyline points="288.3,435.5 301.4,438.0 314.7,430.7" fill="none" stroke="#58dcd6" stroke-width="0.8"/><line x1="301.4" y1="438.0" x2="301.4" y2="466.7" stroke="#58dcd6" stroke-width="0.8"/>
<polygon points="675.9,349.0 689.3,351.5 689.3,378.4 675.9,375.3" fill="#0c42a8"/><polygon points="689.3,351.5 702.2,343.8 702.2,367.0 689.3,378.4" fill="#0b3e9f"/><polygon points="675.9,349.0 691.4,342.2 702.2,343.8 689.3,351.5" fill="#0a3c98"/><polygon points="675.9,349.0 691.4,342.2 702.2,343.8 702.2,367.0 689.3,378.4 675.9,375.3" fill="none" stroke="#08306f" stroke-width="0.8" stroke-linejoin="round"/><polyline points="675.9,349.0 689.3,351.5 702.2,343.8" fill="none" stroke="#7aa6e8" stroke-width="0.8"/><line x1="689.3" y1="351.5" x2="689.3" y2="378.4" stroke="#7aa6e8" stroke-width="0.8"/>
<polygon points="634.8,366.4 648.0,369.5 648.0,395.4 634.8,393.3" fill="#0c42a8"/><polygon points="648.0,369.5 661.1,361.6 661.1,388.1 648.0,395.4" fill="#0b3e9f"/><polygon points="634.8,366.4 651.8,359.6 661.1,361.6 648.0,369.5" fill="#0a3c98"/><polygon points="634.8,366.4 651.8,359.6 661.1,361.6 661.1,388.1 648.0,395.4 634.8,393.3" fill="none" stroke="#08306f" stroke-width="0.8" stroke-linejoin="round"/><polyline points="634.8,366.4 648.0,369.5 661.1,361.6" fill="none" stroke="#7aa6e8" stroke-width="0.8"/><line x1="648.0" y1="369.5" x2="648.0" y2="395.4" stroke="#7aa6e8" stroke-width="0.8"/>
<polygon points="639.3,407.8 652.8,410.5 652.8,437.4 639.3,434.7" fill="#0c42a8"/><polygon points="652.8,410.5 665.2,403.0 665.2,428.5 652.8,437.4" fill="#0b3e9f"/><polygon points="639.3,407.8 655.9,401.0 665.2,403.0 652.8,410.5" fill="#0a3c98"/><polygon points="639.3,407.8 655.9,401.0 665.2,403.0 665.2,428.5 652.8,437.4 639.3,434.7" fill="none" stroke="#08306f" stroke-width="0.8" stroke-linejoin="round"/><polyline points="639.3,407.8 652.8,410.5 665.2,403.0" fill="none" stroke="#7aa6e8" stroke-width="0.8"/><line x1="652.8" y1="410.5" x2="652.8" y2="437.4" stroke="#7aa6e8" stroke-width="0.8"/>
<polygon points="610.4,424.4 623.8,427.5 623.8,453.3 610.4,450.7" fill="#0c42a8"/><polygon points="623.8,427.5 636.9,420.2 636.9,444.0 623.8,453.3" fill="#0b3e9f"/><polygon points="610.4,424.4 628.0,418.1 636.9,420.2 623.8,427.5" fill="#0a3c98"/><polygon points="610.4,424.4 628.0,418.1 636.9,420.2 636.9,444.0 623.8,453.3 610.4,450.7" fill="none" stroke="#08306f" stroke-width="0.8" stroke-linejoin="round"/><polyline points="610.4,424.4 623.8,427.5 636.9,420.2" fill="none" stroke="#7aa6e8" stroke-width="0.8"/><line x1="623.8" y1="427.5" x2="623.8" y2="453.3" stroke="#7aa6e8" stroke-width="0.8"/>
<polygon points="578.3,442.8 591.3,446.1 591.3,472.8 578.3,469.6" fill="#0c42a8"/><polygon points="591.3,446.1 604.1,438.3 604.1,465.6 591.3,472.8" fill="#0b3e9f"/><polygon points="578.3,442.8 593.3,437.0 604.1,438.3 591.3,446.1" fill="#0a3c98"/><polygon points="578.3,442.8 593.3,437.0 604.1,438.3 604.1,465.6 591.3,472.8 578.3,469.6" fill="none" stroke="#08306f" stroke-width="0.8" stroke-linejoin="round"/><polyline points="578.3,442.8 591.3,446.1 604.1,438.3" fill="none" stroke="#7aa6e8" stroke-width="0.8"/><line x1="591.3" y1="446.1" x2="591.3" y2="472.8" stroke="#7aa6e8" stroke-width="0.8"/>
<circle cx="502.5" cy="97.2" r="6.2" fill="#8a3050" stroke="#5a5a5e" stroke-opacity="0.65" stroke-width="2.1"/>
<circle cx="495.9" cy="114.8" r="6.2" fill="#6aaee2" stroke="#5a5a5e" stroke-opacity="0.65" stroke-width="2.1"/>
<circle cx="369.7" cy="147.9" r="6.2" fill="#6aaee2" stroke="#5a5a5e" stroke-opacity="0.65" stroke-width="2.1"/>
<circle cx="147.1" cy="235.4" r="6.2" fill="#6aaee2" stroke="#5a5a5e" stroke-opacity="0.65" stroke-width="2.1"/>
<circle cx="166.3" cy="238.8" r="6.2" fill="#f36b25" stroke="#5a5a5e" stroke-opacity="0.65" stroke-width="2.1"/>
<circle cx="184.2" cy="243.3" r="6.2" fill="#8a3050" stroke="#5a5a5e" stroke-opacity="0.65" stroke-width="2.1"/>
<circle cx="202.6" cy="247.6" r="6.2" fill="#11449a" stroke="#5a5a5e" stroke-opacity="0.65" stroke-width="2.1"/>
<circle cx="114.4" cy="320.5" r="6.2" fill="#1fd1c8" stroke="#5a5a5e" stroke-opacity="0.65" stroke-width="2.1"/>
<circle cx="513.5" cy="406" r="6.2" fill="#6aaee2" stroke="#5a5a5e" stroke-opacity="0.65" stroke-width="2.1"/>
<circle cx="516" cy="425.8" r="6.2" fill="#11449a" stroke="#5a5a5e" stroke-opacity="0.65" stroke-width="2.1"/>
<circle cx="756.5" cy="228.1" r="6.2" fill="#f36b25" stroke="#5a5a5e" stroke-opacity="0.65" stroke-width="2.1"/>
<circle cx="745" cy="319.6" r="6.2" fill="#11449a" stroke="#5a5a5e" stroke-opacity="0.65" stroke-width="2.1"/>
<path d="M344.8,252.2 C345.4,250.9 345.9,247.7 348.1,244.7 C350.3,241.7 354.1,236.8 358.0,234.0 C361.9,231.2 366.9,229.2 371.3,228.2 C375.7,227.2 380.9,227.9 384.6,228.2 C388.3,228.5 392.2,229.5 393.7,229.8 C394.7,228.8 396.3,226.8 399.5,224.0 C402.7,221.2 408.2,216.1 412.7,213.2 C417.2,210.3 421.5,207.8 426.6,206.6 C431.7,205.4 437.7,205.5 443.2,205.8 C448.7,206.1 454.2,206.5 459.7,208.3 C465.2,210.1 471.9,213.5 476.3,216.5 C480.7,219.5 483.4,222.9 486.2,226.5 C489.0,230.1 491.1,234.5 492.9,238.1 C494.7,241.7 495.8,245.5 497.0,248.0 C498.2,250.5 499.8,252.2 500.3,253.0 C501.8,253.8 506.6,255.8 509.5,258.0 C512.4,260.2 515.7,262.1 517.7,266.3 C519.7,270.5 521.2,278.4 521.6,283.3 C522.0,288.2 521.4,291.8 520.1,295.7 C518.8,299.6 516.5,303.5 513.9,306.6 C511.3,309.7 508.1,312.4 504.5,314.3 C500.9,316.2 495.7,317.7 492.1,318.2 C488.5,318.7 485.8,318.0 482.8,317.5 C479.8,317.0 475.7,315.5 474.3,315.1 C473.1,315.8 470.8,317.6 467.3,319.0 C463.8,320.4 458.2,322.7 453.3,323.7 C448.4,324.7 442.9,325.2 437.8,325.2 C432.7,325.2 427.0,324.6 422.6,323.7 C418.2,322.8 414.1,321.1 411.2,319.6 C408.3,318.1 406.4,315.5 405.5,314.7 C404.3,315.7 401.2,318.9 398.1,320.5 C395.0,322.1 390.8,323.8 386.7,324.5 C382.6,325.2 377.7,325.2 373.6,324.5 C369.5,323.8 365.5,322.1 362.2,320.5 C358.9,318.9 355.4,315.7 354.0,314.7 C352.6,314.6 349.1,314.6 345.8,313.9 C342.5,313.2 338.2,312.6 334.4,310.7 C330.6,308.8 326.0,305.5 323.0,302.5 C320.0,299.5 317.8,296.3 316.4,292.7 C315.0,289.1 314.6,284.8 314.5,281.0 C314.4,277.2 314.8,273.3 316.0,270.0 C317.2,266.7 318.7,263.9 321.6,261.3 C324.5,258.8 329.3,256.2 333.2,254.7 C337.1,253.2 342.9,252.6 344.8,252.2 Z" fill="#fff" stroke="#c9eaf8" stroke-width="6.2" stroke-linejoin="miter"/>
<path d="M344.8,252.2 C345.4,250.9 345.9,247.7 348.1,244.7 C350.3,241.7 354.1,236.8 358.0,234.0 C361.9,231.2 366.9,229.2 371.3,228.2 C375.7,227.2 380.9,227.9 384.6,228.2 C388.3,228.5 392.2,229.5 393.7,229.8 C394.7,228.8 396.3,226.8 399.5,224.0 C402.7,221.2 408.2,216.1 412.7,213.2 C417.2,210.3 421.5,207.8 426.6,206.6 C431.7,205.4 437.7,205.5 443.2,205.8 C448.7,206.1 454.2,206.5 459.7,208.3 C465.2,210.1 471.9,213.5 476.3,216.5 C480.7,219.5 483.4,222.9 486.2,226.5 C489.0,230.1 491.1,234.5 492.9,238.1 C494.7,241.7 495.8,245.5 497.0,248.0 C498.2,250.5 499.8,252.2 500.3,253.0 C501.8,253.8 506.6,255.8 509.5,258.0 C512.4,260.2 515.7,262.1 517.7,266.3 C519.7,270.5 521.2,278.4 521.6,283.3 C522.0,288.2 521.4,291.8 520.1,295.7 C518.8,299.6 516.5,303.5 513.9,306.6 C511.3,309.7 508.1,312.4 504.5,314.3 C500.9,316.2 495.7,317.7 492.1,318.2 C488.5,318.7 485.8,318.0 482.8,317.5 C479.8,317.0 475.7,315.5 474.3,315.1 C473.1,315.8 470.8,317.6 467.3,319.0 C463.8,320.4 458.2,322.7 453.3,323.7 C448.4,324.7 442.9,325.2 437.8,325.2 C432.7,325.2 427.0,324.6 422.6,323.7 C418.2,322.8 414.1,321.1 411.2,319.6 C408.3,318.1 406.4,315.5 405.5,314.7 C404.3,315.7 401.2,318.9 398.1,320.5 C395.0,322.1 390.8,323.8 386.7,324.5 C382.6,325.2 377.7,325.2 373.6,324.5 C369.5,323.8 365.5,322.1 362.2,320.5 C358.9,318.9 355.4,315.7 354.0,314.7 C352.6,314.6 349.1,314.6 345.8,313.9 C342.5,313.2 338.2,312.6 334.4,310.7 C330.6,308.8 326.0,305.5 323.0,302.5 C320.0,299.5 317.8,296.3 316.4,292.7 C315.0,289.1 314.6,284.8 314.5,281.0 C314.4,277.2 314.8,273.3 316.0,270.0 C317.2,266.7 318.7,263.9 321.6,261.3 C324.5,258.8 329.3,256.2 333.2,254.7 C337.1,253.2 342.9,252.6 344.8,252.2 Z" fill="none" stroke="#1a86c8" stroke-width="4.4" stroke-linejoin="miter"/>

<g font-family="Liberation Sans" font-weight="bold" fill="#6d6e71" font-size="15.2">
<text x="123" y="55.1" textLength="193.5" lengthAdjust="spacingAndGlyphs">Transportation &amp; Logistics</text>
<text x="578.5" y="40.5" textLength="66" lengthAdjust="spacingAndGlyphs">Logistics</text>
<text x="653" y="108.7" textLength="170.5" lengthAdjust="spacingAndGlyphs">Security &amp; Surveillance</text>
<text x="63.8" y="381" textLength="71" lengthAdjust="spacingAndGlyphs">Medical &amp;</text>
<text x="63.8" y="399.6" textLength="77.7" lengthAdjust="spacingAndGlyphs">Healthcare</text>
<text x="718.2" y="364.6" textLength="84.3" lengthAdjust="spacingAndGlyphs">Industrial &amp;</text>
<text x="718.2" y="382.9" textLength="50.8" lengthAdjust="spacingAndGlyphs">Energy</text>
</g>
<g font-family="Liberation Sans" font-weight="bold" fill="#6d6e71" font-size="12">
<text x="373.8" y="359.3" textLength="91.5" lengthAdjust="spacingAndGlyphs">Communication</text>
<text x="380.3" y="373.4" textLength="78.6" lengthAdjust="spacingAndGlyphs">Infrastructure</text>
</g>
<text x="385.6" y="290.4" font-family="Liberation Sans" font-size="49.3" fill="#4b9bcd" stroke="#4b9bcd" stroke-width="0.8" textLength="79.5" lengthAdjust="spacingAndGlyphs">IOT</text>

</g></svg>
</body></html>
